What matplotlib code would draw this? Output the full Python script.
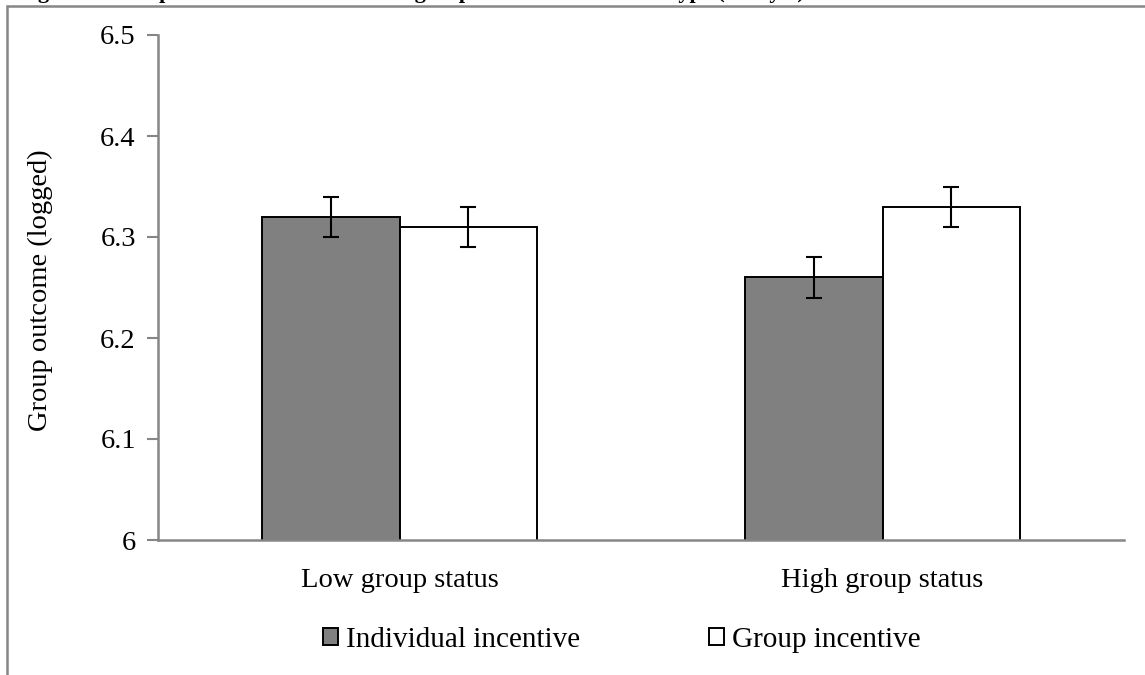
import matplotlib.pyplot as plt
import numpy as np
from matplotlib.patches import Rectangle

plt.rcParams['font.family'] = ['Liberation Serif', 'DejaVu Serif']

# data
groups = ['Low group status', 'High group status']
individual = [6.32, 6.26]
group_inc = [6.31, 6.33]
individual_err = [0.02, 0.02]
group_err = [0.02, 0.02]
yticks = [6.0, 6.1, 6.2, 6.3, 6.4, 6.5]
yticklabels = ['6', '6.1', '6.2', '6.3', '6.4', '6.5']

fig = plt.figure(figsize=(11.45, 6.75), dpi=100)
ax = fig.add_axes([158/1145, 1-540/675, (1124-158)/1145, (540-35)/675])

x = np.arange(len(groups))
w = 0.284
gray = '#868686'

ax.bar(x - w/2, individual, w, color='#808080', edgecolor='black', linewidth=1.4,
       label='Individual incentive', zorder=2)
ax.bar(x + w/2, group_inc, w, color='white', edgecolor='black', linewidth=1.4,
       label='Group incentive', zorder=2)
ax.errorbar(x - w/2, individual, yerr=individual_err, fmt='none', ecolor='black',
            elinewidth=1.5, capsize=6, capthick=1.5, zorder=3)
ax.errorbar(x + w/2, group_inc, yerr=group_err, fmt='none', ecolor='black',
            elinewidth=1.5, capsize=6, capthick=1.5, zorder=3)

ax.set_xlim(-0.5, 1.5)
ax.set_ylim(6.0, 6.5)
ax.set_yticks(yticks)
ax.set_yticklabels(yticklabels, fontsize=20.5)
ax.set_xticks(x)
ax.set_xticklabels(groups, fontsize=20.5)
ax.tick_params(axis='x', length=0, pad=20)
ax.tick_params(axis='y', length=8, width=1.5, color=gray, pad=8)
for s in ['top', 'right']:
    ax.spines[s].set_visible(False)
for s in ['left', 'bottom']:
    ax.spines[s].set_color(gray)
    ax.spines[s].set_linewidth(1.8)
ax.spines['bottom'].set_zorder(4)

fig.text(40/1145, 1-290/675, 'Group outcome (logged)', rotation=90, fontsize=20.5,
         ha='center', va='center')

leg = fig.legend(loc='center', bbox_to_anchor=(622/1145, 1-640/675), ncol=2, frameon=False,
                 fontsize=21, handlelength=0.5, handleheight=0.5, handletextpad=0.3,
                 columnspacing=4.4)

# cut-off title at the very top
fig.text(18/1145, 1+2/675, 'Figure 3. Group outcome as a function of group status and incentive type (Study 2)',
         fontsize=16, fontweight='bold', ha='left', va='baseline')

# frame around the chart
fig.add_artist(Rectangle((7/1145, -0.5), 2, 1.5 - 6/675, transform=fig.transFigure,
                         fill=False, edgecolor=gray, linewidth=1.8))

fig.savefig('out.png', dpi=100)
